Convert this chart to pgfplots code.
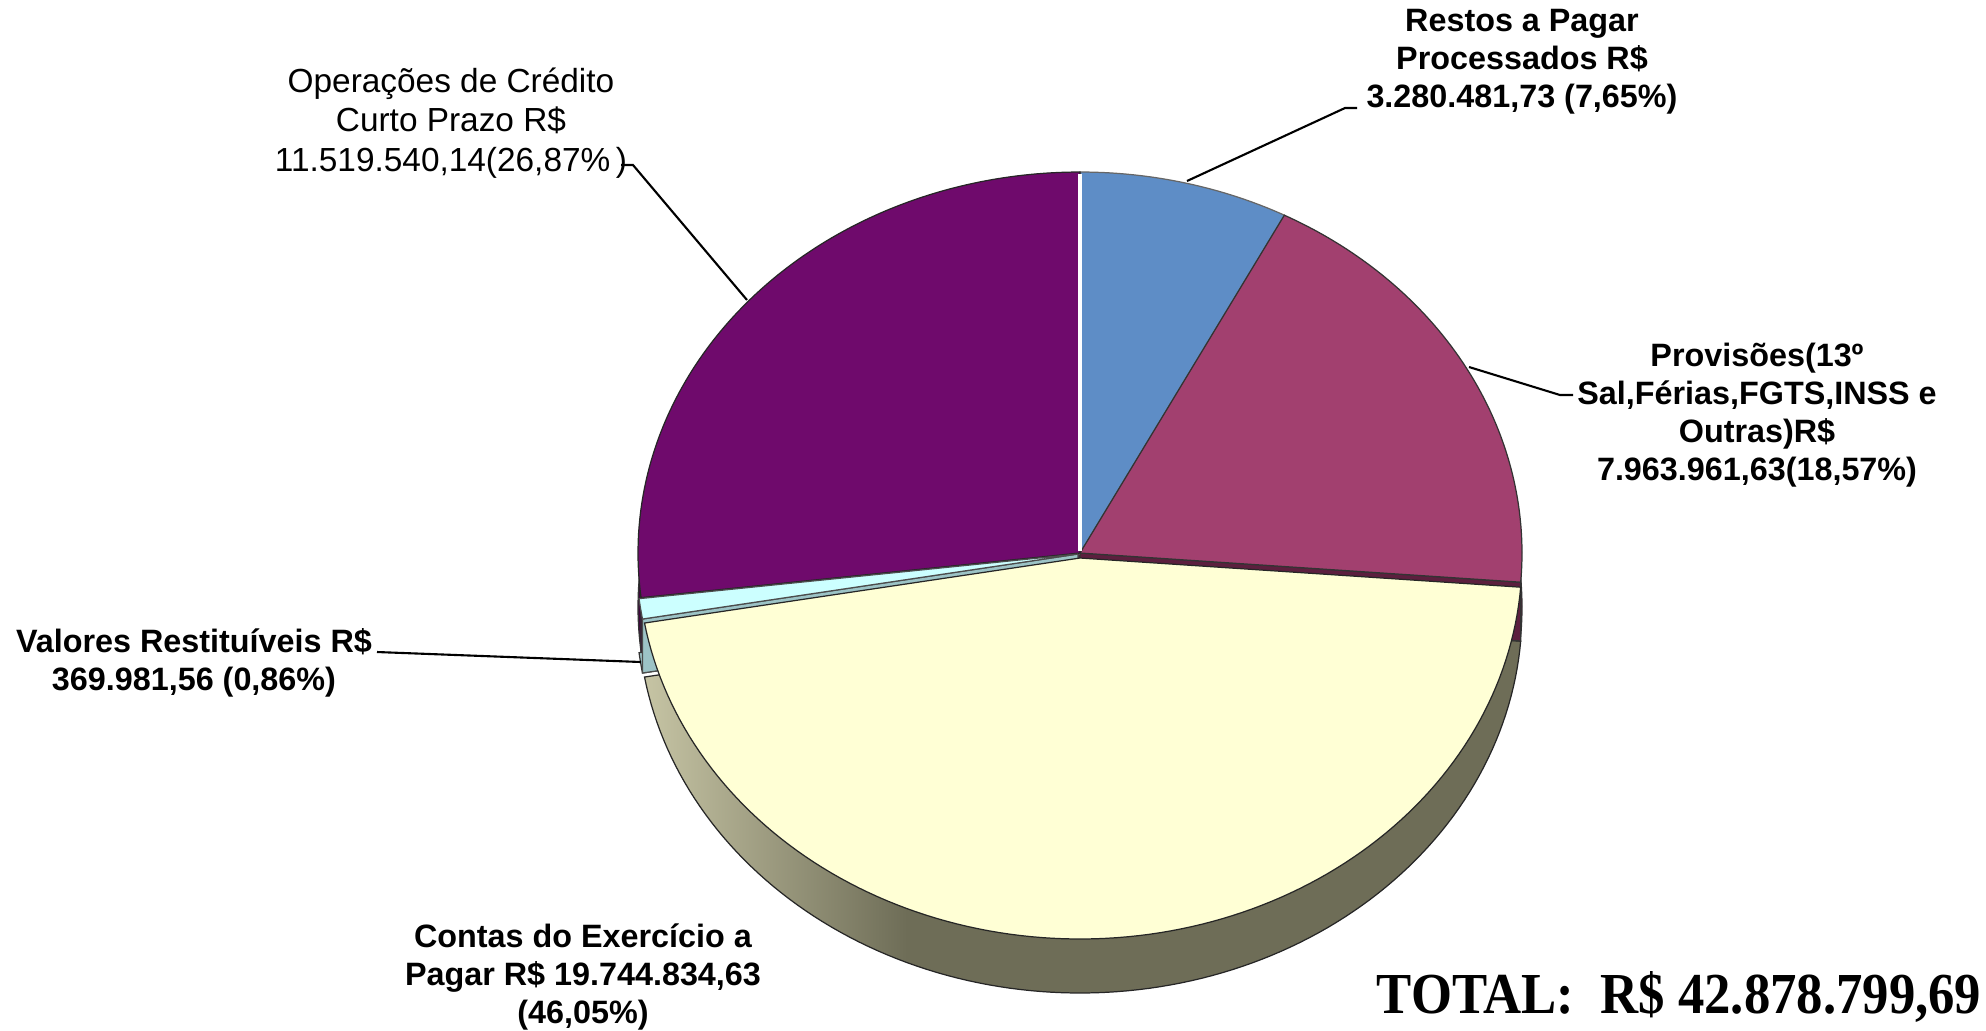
\documentclass[border=0pt]{standalone}
\usepackage{graphicx}
\usepackage{pgfplots}
\usepackage{pgfplotstable}
\pgfplotsset{compat=1.18}
\usepackage{fontspec}
\setmainfont{Liberation Sans}
\newfontfamily\timesfont{Liberation Serif}

\definecolor{cRestos}{HTML}{5E8DC6}
\definecolor{cProv}{HTML}{A2406F}
\definecolor{cProvSide}{HTML}{5C1F3E}
\definecolor{cContas}{HTML}{FFFFD5}
\definecolor{cContasL}{HTML}{C6C4A4}
\definecolor{cContasD}{HTML}{6E6D57}
\definecolor{cVal}{HTML}{CCFFFF}
\definecolor{cValSide}{HTML}{9CC3C6}
\definecolor{cOper}{HTML}{6F0A6C}
\definecolor{cOperSide}{HTML}{3E063C}

\pgfdeclarehorizontalshading{contasside}{100bp}{color(0bp)=(cContasL); color(25bp)=(cContasL); color(40bp)=(cContasD); color(100bp)=(cContasD)}

% values of the chart
\pgfplotstableread{
name value pct
Restos 3280481.73 7.65
Provisoes 7963961.63 18.57
Contas 19744834.63 46.05
Valores 369981.56 0.86
Operacoes 11519540.14 26.87
}\piedata

\pgfplotstablegetelem{0}{pct}\of\piedata \let\pA\pgfplotsretval
\pgfplotstablegetelem{1}{pct}\of\piedata \let\pB\pgfplotsretval
\pgfplotstablegetelem{2}{pct}\of\piedata \let\pC\pgfplotsretval
\pgfplotstablegetelem{3}{pct}\of\piedata \let\pD\pgfplotsretval
\pgfplotstablegetelem{4}{pct}\of\piedata \let\pE\pgfplotsretval
\pgfmathsetmacro\aA{90}
\pgfmathsetmacro\aB{\aA-3.6*\pA}
\pgfmathsetmacro\aC{\aB-3.6*\pB}
\pgfmathsetmacro\aD{\aC-3.6*\pC}
\pgfmathsetmacro\aE{\aD-3.6*\pD}
\pgfmathsetmacro\aF{\aE-3.6*\pE}
\def\rx{442}\def\ry{381}
% face: options, angle lo, angle hi, centre x, centre y
\newcommand\face[5]{%
  \addplot[#1, line width=0.35pt, domain=#2:#3, samples=120, variable=\t]
    ({#4+\rx*cos(\t)}, {#5-\ry*sin(\t)}) -- (axis cs:#4,#5) -- cycle;%
}
\newcommand\lab{\fontsize{9.2}{10.8}\selectfont\bfseries}

\begin{document}%
\begin{tikzpicture}
\begin{axis}[
  width=19.86cm, height=10.30cm, scale only axis,
  xmin=0, xmax=1986, ymin=0, ymax=1030, y dir=reverse,
  enlargelimits=false, hide axis, clip=false]
\path (rel axis cs:0,0) rectangle (rel axis cs:1,1);
% bottom faces (depth 54)
\face{fill=cOperSide, draw=black!80}{\aF}{\aE}{1080}{607}
\face{fill=cProvSide, draw=black!80}{\aC}{\aB}{1080}{607}
\face{fill=cValSide, draw=black!80}{\aE}{\aD}{1078}{608}
\face{shade, shading=contasside, draw=black!85}{\aD}{\aC}{1080}{612}
% cut walls exposed by the exploded slices
\addplot[fill=cOperSide, draw=black!80, line width=0.35pt] coordinates {(1080,553) (641,598) (641,652) (1080,607)} -- cycle;
\addplot[fill=cValSide, draw=black!70, line width=0.35pt] coordinates {(1078,554) (642.5,619) (642.5,673) (1078,608)} -- cycle;
\addplot[fill=cProvSide, draw=black!80, line width=0.35pt] coordinates {(1080,553) (1520.7,582.2) (1520.7,641) (1080,607)} -- cycle;
% top faces
\face{fill=cRestos, draw=black!60}{\aB}{\aA}{1080}{553}
\face{fill=cProv, draw=black!80}{\aC}{\aB}{1080}{553}
\face{fill=cOper, draw=black!85}{\aF}{\aE}{1080}{553}
\face{fill=cVal, draw=black!70}{\aE}{\aD}{1078}{554}
\face{fill=cContas, draw=black!85}{\aD}{\aC}{1080}{558}
\addplot[white, line width=1pt] coordinates {(1080,174) (1080,551)};
% leader lines
\draw[line width=0.6pt] (axis cs:1187,181) -- (axis cs:1345,108) -- (axis cs:1357,108);
\draw[line width=0.6pt] (axis cs:1469,367) -- (axis cs:1560,395) -- (axis cs:1573,395);
\draw[line width=0.6pt] (axis cs:747,300) -- (axis cs:633,165) -- (axis cs:621,165);
\draw[line width=0.6pt] (axis cs:377,652) -- (axis cs:641,662);
% labels
\node[align=center, font=\lab, inner sep=0pt] at (axis cs:1522,62)
  {Restos a Pagar\\Processados R\$\\3.280.481,73 (7,65\%)};
\node[align=center, font=\lab, inner sep=0pt] at (axis cs:1757,415)
  {Provisões(13º\\Sal,Férias,FGTS,INSS e\\Outras)R\$\\7.963.961,63(18,57\%)};
\node[align=center, font=\fontsize{9.5}{11.2}\selectfont, inner sep=0pt] at (axis cs:451,123)
  {Operações de Crédito\\Curto Prazo R\$\\11.519.540,14(26,87\%\,)};
\node[align=center, font=\lab, inner sep=0pt] at (axis cs:194,663)
  {Valores Restituíveis R\$\\369.981,56 (0,86\%)};
\node[align=center, font=\lab, inner sep=0pt] at (axis cs:583,977)
  {Contas do Exercício a\\Pagar R\$ 19.744.834,63\\(46,05\%)};
\node[anchor=base east, inner sep=0pt, font=\timesfont\bfseries\fontsize{15}{16}\selectfont] at (axis cs:1982,1013)
  {\scalebox{1}[1.1]{TOTAL:\ \ R\$ 42.878.799,69}};
\end{axis}
\end{tikzpicture}%
\end{document}
